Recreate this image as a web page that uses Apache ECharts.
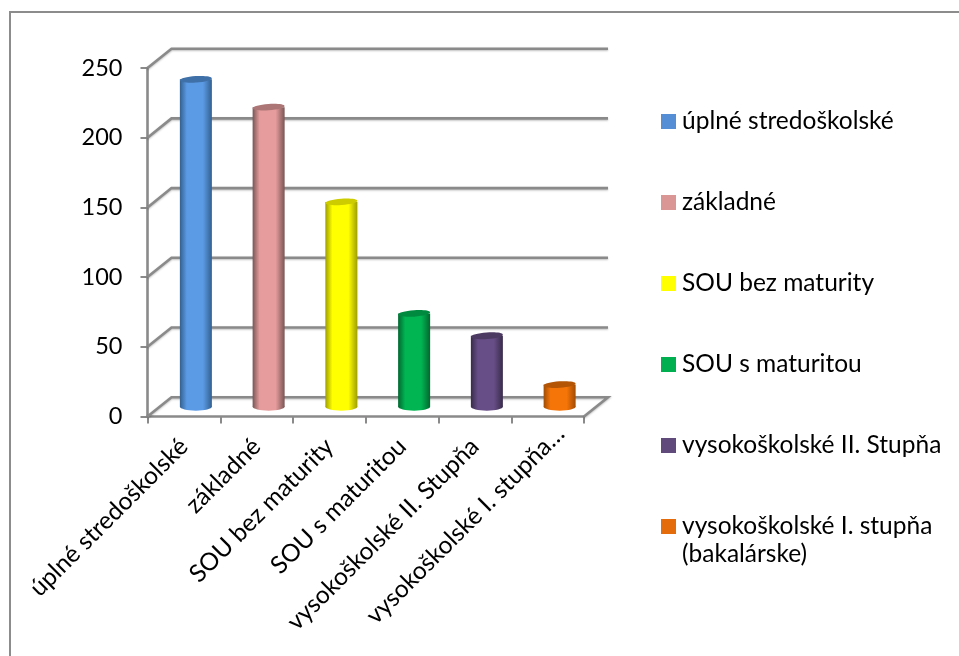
<!DOCTYPE html>
<html><head><meta charset="utf-8">
<style>html,body{margin:0;padding:0;background:#fff}#c{width:959px;height:656px}</style>
<script src="https://cdn.jsdelivr.net/npm/echarts@6/dist/echarts.min.js"></script>
</head><body><div id="c"></div>
<script>
const categories = ['úplné stredoškolské','základné','SOU bez maturity','SOU s maturitou','vysokoškolské II. Stupňa','vysokoškolské I. stupňa…'];
const legendNames = ['úplné stredoškolské','základné','SOU bez maturity','SOU s maturitou','vysokoškolské II. Stupňa','vysokoškolské I. stupňa'];
const values = [235,215,147,67,51,16];
const yTicks = [0,50,100,150,200,250];
const swatch = ['#558ED5','#D99694','#FFFF00','#00B050','#604A7B','#E46C0A'];
const bodyMid = ['#5B9BE6','#E69C9C','#FFFF00','#00B552','#674E86','#F67508'];
const bodyEdge = ['#33608F','#7A5555','#9E9E00','#00682F','#392B4A','#A04C04'];
const topCap = ['#3F70A8','#AD7676','#CCCC00','#008A3F','#4C3A62','#B45506'];
const FONT = 'Lato';
const DX = 24, DY = -19.3, GREY = '#8A8A8A';

const shadow = {shadowColor:'rgba(0,0,0,0.25)',shadowBlur:2,shadowOffsetX:0,shadowOffsetY:1};

function cylinder(idx){
  return function(params, api){
    const band = api.size([1,0])[0];
    const v = api.value(1), c = api.value(0);
    const base = api.coord([c,0]), top = api.coord([c,v]);
    const cx = base[0] + DX/2, rx = band*0.22;
    const yb = base[1] + DY/2, yt = top[1] + DY/2;
    const fill = new echarts.graphic.LinearGradient(0,0,1,0,[
      {offset:0,color:bodyEdge[idx]},{offset:0.22,color:bodyMid[idx]},{offset:0.72,color:bodyMid[idx]},{offset:1,color:bodyEdge[idx]}]);
    return {type:'group',children:[
      {type:'rect',shape:{x:cx-rx,y:yt,width:rx*2,height:yb-yt},style:{fill}},
      {type:'ellipse',shape:{cx,cy:yb,rx,ry:3.8},style:{fill}},
      {type:'ellipse',originX:cx,originY:yt,rotation:0.07,shape:{cx,cy:yt,rx,ry:3.2},style:{fill:topCap[idx]}}
    ]};
  };
}

function wallLine(params, api){
  const v = api.value(0);
  const band = api.size([1,0])[0];
  const left = api.coord([0,v]); const right = api.coord([categories.length-1,v]);
  const lx = left[0]-band/2, rx = right[0]+band/2, y = left[1];
  const pts = [[lx,y],[lx+DX,y+DY],[rx+DX,y+DY]];
  if (v === 0) pts.push([rx,y]);
  return {type:'polyline',shape:{points:pts},style:Object.assign({fill:'none',stroke:GREY,lineWidth:2.6},shadow)};
}

const series = [{
  type:'custom',name:'wall',coordinateSystem:'cartesian2d',silent:true,z:1,
  renderItem:wallLine,
  data:yTicks.map(t=>[t]),encode:{y:0}
}];
categories.forEach((_,i)=>{
  series.push({type:'custom',name:legendNames[i],coordinateSystem:'cartesian2d',z:3,
    renderItem:cylinder(i),itemStyle:{color:swatch[i]},
    data:[[i,values[i]]],encode:{x:0,y:1}});
});

const xData = categories.map((c,i)=> i===categories.length-1 ? {value:c,textStyle:{padding:[0,-18,0,0]}} : c);

const chart = echarts.init(document.getElementById('c'),null,{renderer:'canvas'});
chart.setOption({
  animation:false,
  backgroundColor:'#fff',
  grid:{left:147.5,top:68,width:436.5,height:348.5,containLabel:false},
  xAxis:{type:'category',data:xData,boundaryGap:true,
    axisLine:{lineStyle:{color:GREY,width:2.6}},
    axisTick:{show:true,length:7,alignWithLabel:false,lineStyle:{color:GREY,width:2}},
    axisLabel:{interval:0,rotate:45,margin:26,color:'#000',fontFamily:FONT,fontSize:24.5}},
  yAxis:{type:'value',min:0,max:250,interval:50,
    axisLine:{show:true,lineStyle:{color:GREY,width:2.6}},
    axisTick:{show:true,length:7,lineStyle:{color:GREY,width:2}},
    splitLine:{show:false},
    axisLabel:{margin:25,color:'#000',fontFamily:FONT,fontSize:23.5}},
  legend:{show:true,orient:'vertical',left:656,top:104,itemWidth:15,itemHeight:15,itemGap:56,
    icon:'rect',selectedMode:false,data:legendNames,
    textStyle:{color:'#000',fontFamily:FONT,fontSize:24.5,height:22,lineHeight:22,padding:[0,0,0,1]}},
  graphic:[
    {type:'polyline',silent:true,z:-1,shape:{points:[[959,12],[10,12],[10,656]]},style:{fill:'none',stroke:'#8C8C8C',lineWidth:2}},
    {type:'text',left:682,top:542,style:{text:'(bakalárske)',fill:'#000',font:'24.5px '+FONT}}
  ],
  series
});
</script></body></html>
